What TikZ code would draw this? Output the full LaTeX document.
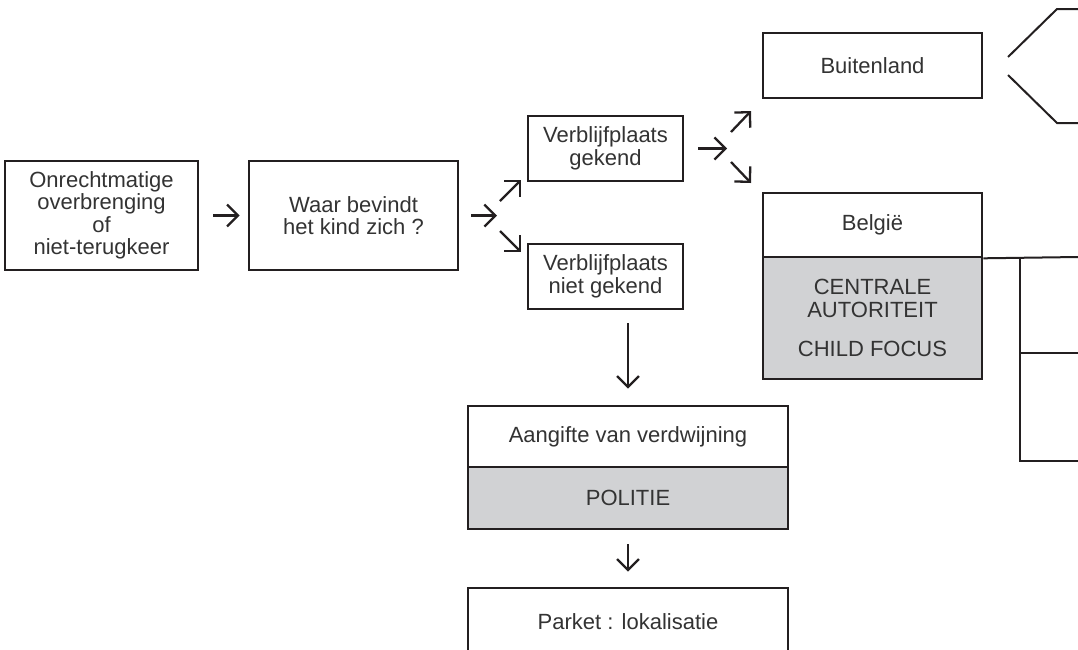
\documentclass[tikz,border=0pt]{standalone}
\usepackage{fontspec}
\setmainfont{Liberation Sans}
\usetikzlibrary{arrows.meta}
\definecolor{boxgray}{HTML}{D1D2D4}
\definecolor{ink}{HTML}{231F20}
\definecolor{txt}{HTML}{333333}
\begin{document}
\begin{tikzpicture}[x=1pt,y=-1pt,
  box/.style={draw=ink,line width=2.6pt,fill=white,inner sep=0pt,align=center,
    font=\fontsize{22}{22.5}\selectfont,text=txt},
  graybox/.style={box,fill=boxgray},
  arr/.style={draw=ink,line width=2.3pt,
    -{Straight Barb[length=11pt,width=22pt,line width=2.3pt]}},
  ln/.style={draw=ink,line width=2pt}]
\useasboundingbox (0,0) rectangle (1078,649);
\clip (0,0) rectangle (1078,649);

% boxes
\node[box,minimum width=193pt,minimum height=109pt] (onr) at (101.5,215.5)
  {Onrechtmatige\\overbrenging\\of\\niet-terugkeer};
\node[box,minimum width=209pt,minimum height=109pt] (waar) at (353.5,215.5)
  {Waar bevindt\\het kind zich ?};
\node[box,minimum width=155pt,minimum height=65pt] (vgek) at (605.5,148.5)
  {Verblijfplaats\\gekend};
\node[box,minimum width=155pt,minimum height=65pt] (vniet) at (605.5,276.5)
  {Verblijfplaats\\niet gekend};
\node[box,minimum width=219pt,minimum height=65pt] (buiten) at (872.5,65.5)
  {Buitenland};
\node[graybox,minimum width=219pt,minimum height=122pt] (ca) at (872.5,318)
  {CENTRALE\\AUTORITEIT\\[17pt]CHILD FOCUS};
\node[box,minimum width=219pt,minimum height=64pt] (belg) at (872.5,225)
  {België};
\node[graybox,minimum width=320pt,minimum height=62pt] (pol) at (628,498)
  {POLITIE};
\node[box,minimum width=320pt,minimum height=61pt] (aang) at (628,436.5)
  {Aangifte van verdwijning};
\node[box,minimum width=320pt,minimum height=68pt] (parket) at (628,622)
  {Parket : lokalisatie};

% arrow end points
\coordinate (f1) at (497,215.5);
\coordinate (u1s) at (500,201); \coordinate (u1e) at (521,180);
\coordinate (d1s) at (500,231); \coordinate (d1e) at (521,252);
\coordinate (f2) at (727,148.5);
\coordinate (u2s) at (731,132); \coordinate (u2e) at (751,111);
\coordinate (d2s) at (731,162); \coordinate (d2e) at (751,183);
\coordinate (v1s) at (628,323);

% arrows
\draw[arr,shorten <=14pt,shorten >=8pt] (onr.east) -- (waar.west);
\draw[arr,shorten <=12pt] (waar.east) -- (f1);
\draw[arr] (u1s) -- (u1e);
\draw[arr] (d1s) -- (d1e);
\draw[arr,shorten <=14pt] (vgek.east) -- (f2);
\draw[arr] (u2s) -- (u2e);
\draw[arr] (d2s) -- (d2e);
\draw[arr,shorten >=16pt] (v1s) -- (aang.north);
\draw[arr,shorten <=14pt,shorten >=15pt] (pol.south) -- (parket.north);

% bracket at Buitenland
\coordinate (b1) at (1008,57); \coordinate (b2) at (1057,9); \coordinate (b3) at (1078,9);
\coordinate (b4) at (1008,75); \coordinate (b5) at (1057,123); \coordinate (b6) at (1078,123);
\draw[ln] (b1) -- (b2) -- (b3);
\draw[ln] (b4) -- (b5) -- (b6);

% lines from Belgie
\coordinate (r1) at (1078,257);
\coordinate (vt) at (1020,257);
\coordinate (vb) at (1020,461);
\coordinate (r2) at (1078,353);
\coordinate (r3) at (1078,461);
\draw[ln] (belg.south east) -- (r1);
\draw[ln] (vt) -- (vb) -- (r3);
\draw[ln] (vt |- r2) -- (r2);
\end{tikzpicture}
\end{document}
